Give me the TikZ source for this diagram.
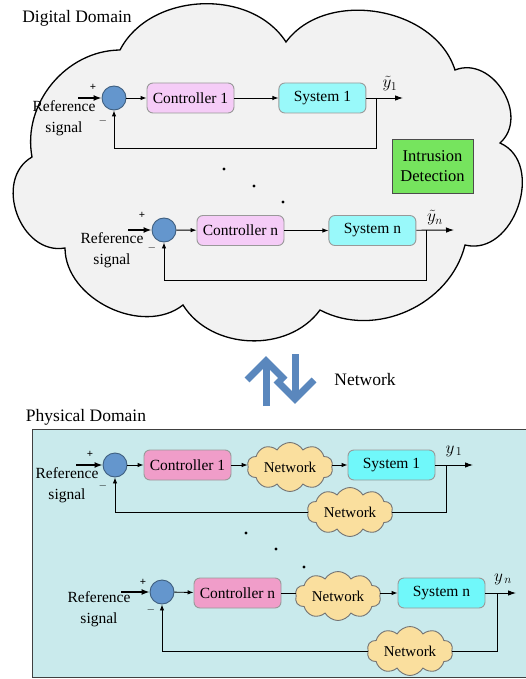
\documentclass[tikz,border=0pt]{standalone}
\usepackage{fontspec}
\setmainfont{Liberation Serif}
\usetikzlibrary{arrows.meta,positioning,shapes.symbols}
\definecolor{cloudgray}{HTML}{F2F2F2}
\definecolor{dctrlfill}{HTML}{F5CCF7}
\definecolor{dsysfill}{HTML}{99F9FA}
\definecolor{pctrlfill}{HTML}{F09DC9}
\definecolor{psysfill}{HTML}{70F8FA}
\definecolor{sumfill}{HTML}{6496CD}
\definecolor{sumborder}{HTML}{3F5F80}
\definecolor{idsfill}{HTML}{76E45E}
\definecolor{physfill}{HTML}{C9EAEC}
\definecolor{netfill}{HTML}{FADF9E}
\definecolor{arrowblue}{HTML}{5A87BD}

\begin{document}
\begin{tikzpicture}[x=1pt, y=-1pt, line width=0.9pt, >={Latex[length=6pt,width=4.5pt]},
    font=\rmfamily\fontsize{15.5}{18}\selectfont,
    sum node/.style={circle, draw=sumborder, fill=sumfill, minimum size=24pt, inner sep=0pt},
    block node/.style={rectangle, rounded corners=6pt, draw=black!40, minimum width=87pt, minimum height=30pt, inner sep=1pt},
    ref node/.style={align=center, font=\rmfamily\fontsize{15.5}{21}\selectfont},
    sign node/.style={inner sep=0pt, font=\fontsize{11}{11}\selectfont\bfseries},
    net node/.style={cloud, cloud puffs=10, cloud puff arc=120, cloud ignores aspect, draw=black!55, fill=netfill, minimum width=86pt, minimum height=49pt, inner sep=0pt, font=\rmfamily\fontsize{15}{16}\selectfont},
    title node/.style={font=\rmfamily\fontsize{17.5}{20}\selectfont},
    out label/.style={font=\fontsize{17}{20}\selectfont},
    input/.style={->, line width=1.5pt, >={Latex[length=8pt,width=6pt]}},
    output/.style={->, >={Latex[length=8pt,width=5.5pt]}},
    net arrow/.style={draw=arrowblue, line width=7pt, line join=miter}]
    \useasboundingbox (0,0) rectangle (526,679);

    % digital domain
    \draw[fill=cloudgray, line width=1.3pt] (120,50) to[bend left=60] (286,42) to[bend left=63] (455,70)
        to[bend left=80, looseness=1.2] (500,143) to[bend left=85, looseness=1.2] (465,245)
        to[bend left=52] (320,310) to[bend left=56] (183,305) to[bend left=64] (65,248)
        to[bend left=80, looseness=1.2] (32,157) to[bend left=50] (120,50) -- cycle;
    \node[title node] (dtitle) at (77,18) {Digital Domain};

    \node[sum node] (dsum1) at (114,98) {};
    \node[block node, fill=dctrlfill] (dctrl1) at (190.5,98) {Controller 1};
    \node[block node, fill=dsysfill] (dsys1) [right=44pt of dctrl1] {System 1};
    \node[ref node] (dref1) at (64,118) {Reference\\signal};
    \node[sign node] (dplus1) at (93,87) {+};
    \node[sign node] (dminus1) at (103,121) {$-$};
    \node[out label] (dy1) at (390,84) {$\tilde{y}_{1}$};
    \coordinate (din1) at (78,98);
    \coordinate (dbr1) at (376,98);
    \coordinate (dout1) at (403,98);
    \draw[input] (din1) -- (dsum1.west);
    \draw[->] (dsum1) -- (dctrl1);
    \draw[->] (dctrl1) -- (dsys1);
    \draw[output] (dsys1) -- (dout1);
    \draw[->] (dbr1) -- ++(0,50) -| (dsum1.south);

    \node[rectangle, draw=black!70, fill=idsfill, minimum width=81pt, minimum height=54pt, align=center,
        font=\rmfamily\fontsize{16.5}{20}\selectfont] (ids) at (432.5,166) {Intrusion\\Detection};

    \fill (224,169) circle (1.6) (254,186) circle (1.6) (283,202) circle (1.6);

    \node[sum node] (dsumn) at (164,230) {};
    \node[block node, fill=dctrlfill] (dctrln) at (240.5,230.5) {Controller n};
    \node[block node, fill=dsysfill] (dsysn) [right=44pt of dctrln] {System n};
    \node[ref node] (drefn) at (112,250) {Reference\\signal};
    \node[sign node] (dplusn) at (142,215) {+};
    \node[sign node] (dminusn) at (152,248) {$-$};
    \node[out label] (dyn) at (435,218) {$\tilde{y}_{n}$};
    \coordinate (dinn) at (128,230);
    \coordinate (dbrn) at (426,230);
    \coordinate (doutn) at (454,230);
    \draw[input] (dinn) -- (dsumn.west);
    \draw[->] (dsumn) -- (dctrln);
    \draw[->] (dctrln) -- (dsysn);
    \draw[output] (dsysn) -- (doutn);
    \draw[->] (dbrn) -- ++(0,50) -| (dsumn.south);

    % network between the domains
    \draw[net arrow] (266,406) -- (266,361);
    \draw[net arrow] (247,380) -- (266,361) -- (285,380);
    \draw[net arrow] (295,354) -- (295,399);
    \draw[net arrow] (276,380) -- (295,399) -- (314,380);
    \node[title node] (netlabel) at (365,380) {Network};

    % physical domain
    \node[title node] (ptitle) at (86,417) {Physical Domain};
    \draw[draw=black!75, fill=physfill] (32,429) rectangle (540,677);

    \node[sum node] (psum1) at (115,465) {};
    \node[block node, fill=pctrlfill] (pctrl1) at (187.5,465) {Controller 1};
    \node[net node] (pnet1) at (290,467) {Network};
    \node[block node, fill=psysfill] (psys1) at (391.5,465) {System 1};
    \node[net node] (pfb1) at (350,512) {Network};
    \node[ref node] (pref1) at (67,485) {Reference\\signal};
    \node[sign node] (pplus1) at (90,454) {+};
    \node[sign node] (pminus1) at (103,486) {$-$};
    \node[out label] (py1) at (454,451) {$y_{\,1}$};
    \coordinate (pin1) at (76,465);
    \coordinate (pbr1) at (446,465);
    \coordinate (pout1) at (473,465);
    \draw[input] (pin1) -- (psum1.west);
    \draw[->] (psum1) -- (pctrl1);
    \draw[->] (pctrl1.east) -- (pctrl1.east -| pnet1.west);
    \draw[->] (pnet1.east |- psys1.west) -- (psys1.west);
    \draw[output] (psys1) -- (pout1);
    \draw (pbr1) |- (pfb1.east);
    \draw[->] (pfb1.west) -| (psum1.south);

    \fill (246,533) circle (1.6) (276,549) circle (1.6) (304,567) circle (1.6);

    \node[sum node] (psumn) at (162,592) {};
    \node[block node, fill=pctrlfill] (pctrln) at (237.5,593) {Controller n};
    \node[net node] (pnetn) at (338,596) {Network};
    \node[block node, fill=psysfill] (psysn) at (441.5,593) {System n};
    \node[net node] (pfbn) at (410,651) {Network};
    \node[ref node] (prefn) at (99,609) {Reference\\signal};
    \node[sign node] (pplusn) at (143,582) {+};
    \node[sign node] (pminusn) at (151,610) {$-$};
    \node[out label] (pyn) at (503,579) {$y_{\,n}$};
    \coordinate (pinn) at (121,592);
    \coordinate (pbrn) at (497,593);
    \coordinate (poutn) at (516,593);
    \draw[input] (pinn) -- (psumn.west);
    \draw[->] (psumn) -- (pctrln);
    \draw (pctrln.east) -- (pctrln.east -| pnetn.west);
    \draw[->] (pnetn.east |- psysn.west) -- (psysn.west);
    \draw[output] (psysn) -- (poutn);
    \draw (pbrn) |- (pfbn.east);
    \draw[->] (pfbn.west) -| (psumn.south);
\end{tikzpicture}
\end{document}
